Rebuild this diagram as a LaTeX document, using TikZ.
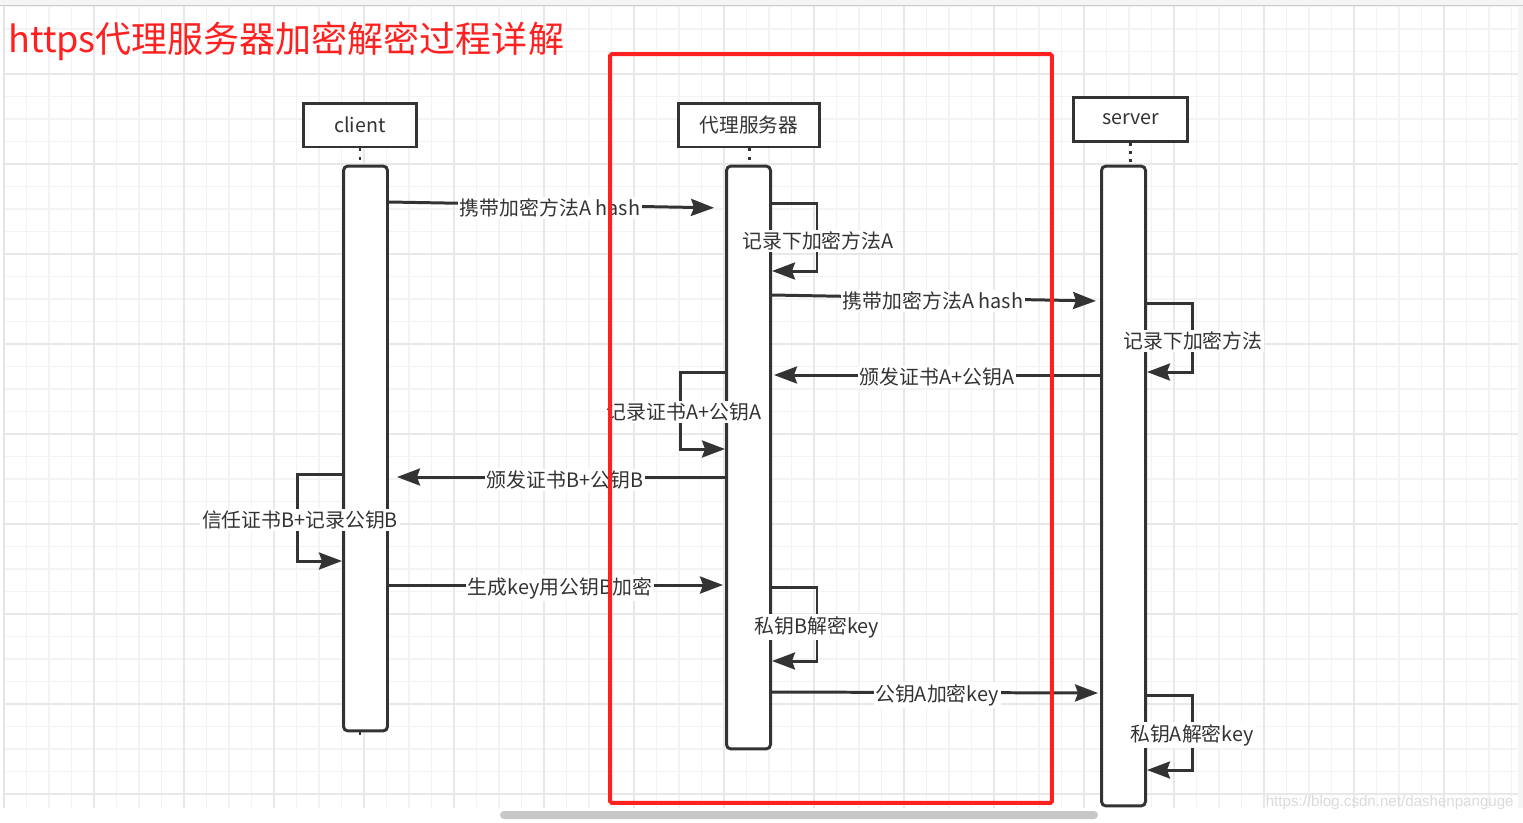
\documentclass[tikz,border=0pt]{standalone}
\usepackage{fontspec}
\setmainfont{Noto Sans CJK SC}
\newfontfamily\wmfont{Liberation Sans}
\usepackage{tikz}
\usetikzlibrary{arrows.meta, positioning}
\definecolor{drawgray}{HTML}{333333}
\definecolor{markred}{HTML}{FF2020}
\definecolor{gridminor}{HTML}{F3F3F3}
\definecolor{gridmajor}{HTML}{E8E8E8}
\tikzstyle{actor}=[draw=drawgray,line width=1.7pt,fill=white,minimum height=0.88cm,inner sep=0pt,text=drawgray,font=\fontsize{11.2}{12}\selectfont]
\tikzstyle{bar}=[draw=drawgray,line width=1.7pt,fill=white,rounded corners=2.5pt,minimum width=0.88cm,inner sep=0pt]
\tikzstyle{msg}=[draw=drawgray,line width=1.7pt,-{Stealth[length=0.46cm,width=0.34cm,inset=0.06cm]}]
\tikzstyle{msglabel}=[fill=white,inner sep=1pt,text=drawgray,font=\fontsize{11.3}{12}\selectfont]
\tikzstyle{lifeline}=[draw=drawgray,line width=1.7pt,dash pattern=on 1.7pt off 3pt]

\begin{document}
\begin{tikzpicture}[x=0.02cm,y=-0.02cm]
\useasboundingbox (0,0) rectangle (1523,822);
%\draw[step=1cm,gray,very thin] (0,0) grid (1523,822);
\fill[white] (0,0) rectangle (1523,822);
\fill[black!4] (0,0) rectangle (1523,5);
\fill[black!4] (1518,5) rectangle (1523,808);
\foreach \k in {0,...,67} \draw[gridminor,line width=1.1pt] ({4+22.5*\k},6) -- ({4+22.5*\k},808);
\foreach \k in {0,...,35} \draw[gridminor,line width=1.1pt] (4,{6.5+22.5*\k}) -- (1518,{6.5+22.5*\k});
\foreach \k in {0,...,16} \draw[gridmajor,line width=1.1pt] ({4+90*\k},6) -- ({4+90*\k},808);
\foreach \k in {0,...,8} \draw[gridmajor,line width=1.1pt] (4,{74+90*\k}) -- (1518,{74+90*\k});
\draw[black!20,line width=1pt] (0,5.5) -- (1523,5.5);
\draw[black!10,line width=1.2pt] (4,6) -- (4,808);
\fill[black!22,rounded corners=0.08cm] (500,811) rectangle (1098,819);
\node[anchor=east,inner sep=0pt,text=black!14,font=\wmfont\fontsize{8.6}{10}\selectfont] (watermark) at (1514,803) {https://blog.csdn.net/dashenpanguge};

\node[anchor=west,inner sep=0pt,text=markred,font=\fontsize{20.5}{24}\selectfont] (title) at (8,41) {https代理服务器加密解密过程详解};

\node[actor,minimum width=2.25cm] (client) at (360,125) {client};
\node[actor,minimum width=2.81cm] (proxy) at (749,125) {代理服务器};
\node[actor,minimum width=2.27cm,minimum height=0.87cm] (server) at (1130.5,119.5) {server};

\node[bar,minimum height=11.3cm] (clientbar) at (365.5,448.5) {};
\node[bar,minimum height=11.66cm] (proxybar) at (748.5,457.5) {};
\node[bar,minimum height=12.8cm] (serverbar) at (1123.5,486) {};
\coordinate (clientend) at (360,738);

\draw[lifeline] (client.south) -- (client.south |- clientbar.north);
\draw[lifeline] (proxy.south) -- (proxy.south |- proxybar.north);
\draw[lifeline] (server.south) -- (server.south |- serverbar.north);
\draw[lifeline] (client.south |- clientbar.south) -- (clientend);

\draw[msg,shorten >=0.22cm] (clientbar.east |- 0,202) -- (proxybar.west |- 0,208);
\draw[msg] (proxybar.east |- 0,203) -- ++(45,0) |- (proxybar.east |- 0,271);
\draw[msg,shorten >=0.08cm] (proxybar.east |- 0,295) -- (serverbar.west |- 0,301);
\draw[msg] (serverbar.east |- 0,303) -- ++(45,0) |- (serverbar.east |- 0,372);
\draw[msg,shorten >=0.04cm] (serverbar.west |- 0,375) -- (proxybar.east |- 0,375);
\draw[msg] (proxybar.west |- 0,372) -- ++(-45,0) |- (proxybar.west |- 0,449);
\draw[msg,shorten >=0.16cm] (proxybar.west |- 0,477) -- (clientbar.east |- 0,477);
\draw[msg] (clientbar.west |- 0,474) -- ++(-45,0) |- (clientbar.west |- 0,561);
\draw[msg,shorten >=0.04cm] (clientbar.east |- 0,585) -- (proxybar.west |- 0,585);
\draw[msg] (proxybar.east |- 0,587) -- ++(45,0) |- (proxybar.east |- 0,661);
\draw[msg,shorten >=0.04cm] (proxybar.east |- 0,692) -- (serverbar.west |- 0,693);
\draw[msg] (serverbar.east |- 0,695) -- ++(45,0) |- (serverbar.east |- 0,770);

\node[msglabel] (hashA) at (550,208) {携带加密方法A hash};
\node[msglabel] (keepA) at (818,241) {记录下加密方法A};
\node[msglabel] (hashB) at (933,301) {携带加密方法A hash};
\node[msglabel] (keepB) at (1193,341) {记录下加密方法};
\node[msglabel] (certA) at (937,377) {颁发证书A+公钥A};
\node[msglabel] (saveA) at (684,412) {记录证书A+公钥A};
\node[msglabel] (certB) at (565,480) {颁发证书B+公钥B};
\node[msglabel] (trustB) at (300,520) {信任证书B+记录公钥B};
\node[msglabel] (genkey) at (560,588) {生成key用公钥B加密};
\node[msglabel] (decB) at (817,627) {私钥B解密key};
\node[msglabel] (encA) at (937,695) {公钥A加密key};
\node[msglabel] (decA) at (1192,735) {私钥A解密key};

\node[draw=markred,line width=2.3pt,rounded corners=1pt,minimum width=8.84cm,minimum height=14.98cm] (focus) at (831,428.5) {};
\end{tikzpicture}
\end{document}
